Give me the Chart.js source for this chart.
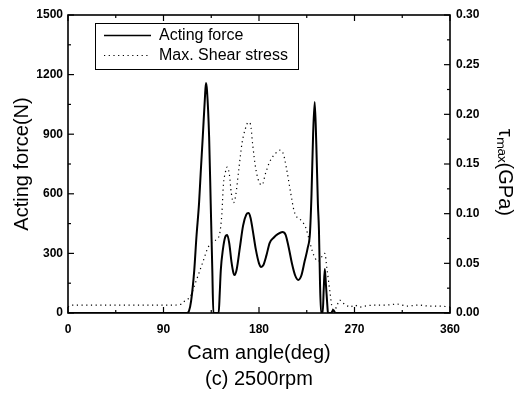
<!DOCTYPE html>
<html>
<head>
<meta charset="utf-8">
<script src="https://cdn.jsdelivr.net/npm/chart.js@4.4.0/dist/chart.umd.min.js"></script>
<style>
html,body{margin:0;padding:0;background:#fff;}
canvas{display:block;}
</style>
</head>
<body>
<canvas id="c" width="524" height="396"></canvas>
<script>
// ---- data ----
const forceAngle = [0,112,114,116,119,121,123.5,125,127,129,130,131,133,134.5,136,137,142,143,144,146,148,150,152,154,156,157,159,162,165,168,170,172,174,177,180,182,184,187,190,194,198,202,205,208,211,214,217,220,223,226,228,229.5,231,232.5,234,235.5,236.5,237.5,238.5,240,241,242,243,244.5,245,248,250,252,360];
const forceValue = [0,0,10,60,216,380,553,700,886,1080,1158,1120,886,550,216,0,0,100,216,320,380,393,350,260,200,191,220,330,440,495,503,480,420,320,250,232,240,290,352,380,398,408,395,330,250,190,166,190,260,330,400,600,900,1062,850,550,418,150,0,0,120,221,150,30,0,0,15,0,0];

const stressAngle = [0,3,20,40,60,80,100,107,110,113,116,119,122,127,132,137,141,143,145,146.5,148,150,152,154,156,158,161,164,167,170,172,174,177,181,183,186,190,195,200,203,206,210,213,216,220,224,227,230,233,236,240,242,244,247,249,251,253,256,259,262,266,270,275,280,290,300,310,320,330,340,350,360];
const stressValue = [0.006,0.008,0.008,0.008,0.008,0.008,0.008,0.009,0.012,0.014,0.018,0.027,0.036,0.051,0.066,0.072,0.075,0.08,0.1,0.13,0.14,0.147,0.14,0.12,0.111,0.118,0.145,0.171,0.185,0.192,0.19,0.17,0.145,0.13,0.129,0.14,0.152,0.16,0.164,0.16,0.145,0.12,0.103,0.096,0.093,0.086,0.075,0.063,0.055,0.052,0.058,0.06,0.045,0.02,0.005,0.003,0.006,0.013,0.01,0.008,0.006,0.008,0.006,0.007,0.008,0.008,0.009,0.007,0.008,0.007,0.007,0.006];

const xTicks = [0,90,180,270,360];
const leftTicks = [0,300,600,900,1200,1500];
const rightTicks = [0,0.05,0.10,0.15,0.20,0.25,0.30];

const seriesNames = ['Acting force','Max. Shear stress'];
const xTitle = ['Cam angle(deg)','(c) 2500rpm'];
const leftTitle = 'Acting force(N)';
const rightTitle = '   τₘₐₓ(GPa)';

const tickFont = {family:"'Liberation Sans Narrow','Arial Narrow','Liberation Sans',Arial,sans-serif", size:12, weight:'bold'};
const titleFont = {family:"'Liberation Sans',Arial,sans-serif", size:20, weight:'normal'};

// ---- plugin: frame, inward ticks, legend ----
const decor = {
  id:'decor',
  afterDatasetsDraw(chart){
    const ctx = chart.ctx, a = chart.chartArea;
    const sx = chart.scales.x, sy = chart.scales.y, sy2 = chart.scales.y2;
    ctx.save();
    ctx.strokeStyle = '#000';
    ctx.lineWidth = 1.2;
    for (let i = 0; i < xTicks.length; i++) {
      const v = xTicks[i];
      const p = sx.getPixelForValue(v);
      ctx.beginPath();
      ctx.moveTo(p, a.bottom); ctx.lineTo(p, a.bottom - 6);
      ctx.moveTo(p, a.top); ctx.lineTo(p, a.top + 6);
      ctx.stroke();
      if (i < xTicks.length - 1) {
        const m = sx.getPixelForValue((v + xTicks[i+1]) / 2);
        ctx.beginPath();
        ctx.moveTo(m, a.bottom); ctx.lineTo(m, a.bottom - 3);
        ctx.moveTo(m, a.top); ctx.lineTo(m, a.top + 3);
        ctx.stroke();
      }
    }
    for (let i = 0; i < leftTicks.length; i++) {
      const v = leftTicks[i];
      const p = sy.getPixelForValue(v);
      ctx.beginPath(); ctx.moveTo(a.left, p); ctx.lineTo(a.left + 6, p); ctx.stroke();
      if (i < leftTicks.length - 1) {
        const m = sy.getPixelForValue((v + leftTicks[i+1]) / 2);
        ctx.beginPath(); ctx.moveTo(a.left, m); ctx.lineTo(a.left + 3, m); ctx.stroke();
      }
    }
    for (let i = 0; i < rightTicks.length; i++) {
      const v = rightTicks[i];
      const p = sy2.getPixelForValue(v);
      ctx.beginPath(); ctx.moveTo(a.right, p); ctx.lineTo(a.right - 6, p); ctx.stroke();
      if (i < rightTicks.length - 1) {
        const m = sy2.getPixelForValue((v + rightTicks[i+1]) / 2);
        ctx.beginPath(); ctx.moveTo(a.right, m); ctx.lineTo(a.right - 3, m); ctx.stroke();
      }
    }
    ctx.lineWidth = 1.6;
    ctx.strokeRect(a.left, a.top, a.right - a.left, a.bottom - a.top);
    // legend
    const bx = 95, by = 23, bw = 203, bh = 46;
    ctx.fillStyle = '#fff';
    ctx.fillRect(bx, by, bw, bh);
    ctx.lineWidth = 1;
    ctx.strokeRect(bx + 0.5, by + 0.5, bw, bh);
    ctx.lineWidth = 1.5;
    ctx.beginPath(); ctx.moveTo(104, 35.5); ctx.lineTo(151, 35.5); ctx.stroke();
    ctx.lineWidth = 1.2;
    ctx.setLineDash([1.2, 3.5]);
    ctx.beginPath(); ctx.moveTo(104, 55.5); ctx.lineTo(151, 55.5); ctx.stroke();
    ctx.setLineDash([]);
    ctx.fillStyle = '#000';
    ctx.font = "16px 'Liberation Sans', Arial, sans-serif";
    ctx.textBaseline = 'middle';
    ctx.textAlign = 'left';
    ctx.fillText(seriesNames[0], 159, 36);
    ctx.fillText(seriesNames[1], 159, 56);
    ctx.restore();
  }
};

new Chart(document.getElementById('c'), {
  type: 'line',
  data: {
    datasets: [
      {
        label: seriesNames[0],
        data: forceAngle.map((x, i) => ({x, y: forceValue[i]})),
        yAxisID: 'y',
        borderColor: '#000',
        borderWidth: 2,
        pointRadius: 0,
        fill: false,
        cubicInterpolationMode: 'monotone'
      },
      {
        label: seriesNames[1],
        data: stressAngle.map((x, i) => ({x, y: stressValue[i]})),
        yAxisID: 'y2',
        borderColor: '#000',
        borderWidth: 1.2,
        borderDash: [1.2, 3.5],
        pointRadius: 0,
        fill: false,
        cubicInterpolationMode: 'monotone'
      }
    ]
  },
  options: {
    responsive: false,
    animation: false,
    devicePixelRatio: 1,
    layout: {padding: {top: 15, left: 0, right: 0, bottom: 0}},
    plugins: {legend: {display: false}, tooltip: {enabled: false}},
    scales: {
      x: {
        type: 'linear', position: 'bottom', min: 0, max: 360,
        afterBuildTicks: s => { s.ticks = xTicks.map(v => ({value: v})); },
        afterFit: s => { s.height = 83; },
        grid: {display: false, drawTicks: false},
        border: {display: false},
        ticks: {color: '#000', font: tickFont, padding: 9, maxRotation: 0, autoSkip: false, callback: v => String(v)},
        title: {display: true, text: xTitle, color: '#000', font: {...titleFont, lineHeight: 1.3}, padding: {top: 0, bottom: 4}}
      },
      y: {
        type: 'linear', position: 'left', min: 0, max: 1500,
        afterBuildTicks: s => { s.ticks = leftTicks.map(v => ({value: v})); },
        afterFit: s => { s.width = 68; },
        grid: {display: false, drawTicks: false},
        border: {display: false},
        ticks: {color: '#000', font: tickFont, padding: 5, autoSkip: false, callback: v => String(v)},
        title: {display: true, text: leftTitle, color: '#000', font: {...titleFont, lineHeight: 1.2}, padding: {top: 10, bottom: 0}}
      },
      y2: {
        type: 'linear', position: 'right', min: 0, max: 0.30,
        afterBuildTicks: s => { s.ticks = rightTicks.map(v => ({value: v})); },
        afterFit: s => { s.width = 74; },
        grid: {display: false, drawTicks: false},
        border: {display: false},
        ticks: {color: '#000', font: tickFont, padding: 6, autoSkip: false, callback: v => Number(v).toFixed(2)},
        title: {display: true, text: rightTitle, color: '#000', font: {...titleFont, lineHeight: 1.2}, padding: {top: 7, bottom: 0}}
      }
    }
  },
  plugins: [decor]
});
</script>
</body>
</html>
